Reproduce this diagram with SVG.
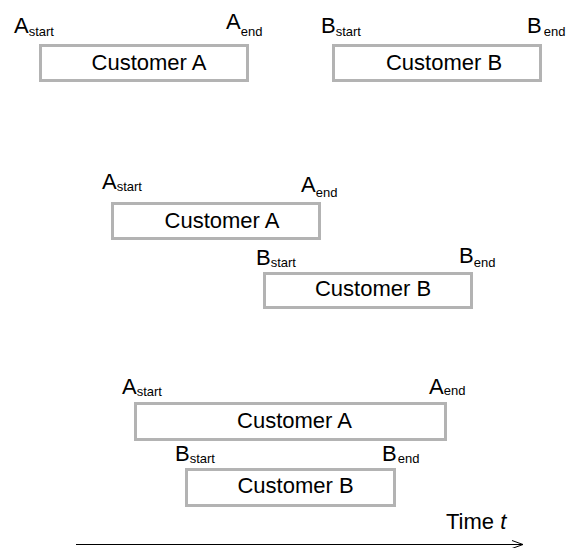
<svg xmlns="http://www.w3.org/2000/svg" width="575" height="548" viewBox="0 0 575 548">
<style>
text{font-family:"Liberation Sans",Arial,sans-serif;fill:#000}
.box{fill:#fff;stroke:#b3b3b3;stroke-width:3}
.lbl{font-size:22px}
.big{font-size:22px}
.sub{font-size:13px}
</style>
<defs>
<marker id="arr" viewBox="0 0 12 10" refX="11" refY="5" markerWidth="12" markerHeight="10" markerUnits="userSpaceOnUse" orient="auto">
<polyline points="0,1 11,5 0,9" fill="none" stroke="#000" stroke-width="1"/>
</marker>
</defs>
<rect width="575" height="548" fill="#fff"/>

<!-- Row 1 -->
<g id="r1-custA">
<rect class="box" x="40.5" y="45.5" width="207" height="35"/>
<text class="lbl" x="149" y="70" text-anchor="middle">Customer A</text>
</g>
<g id="r1-custB">
<rect class="box" x="333.5" y="45.5" width="207" height="35"/>
<text class="lbl" x="444" y="70" text-anchor="middle">Customer B</text>
</g>
<g id="r1-labels">
<text x="14" y="33"><tspan class="big">A</tspan><tspan class="sub" dy="3">start</tspan></text>
<text x="226" y="29"><tspan class="big">A</tspan><tspan class="sub" dy="7">end</tspan></text>
<text x="321" y="33"><tspan class="big">B</tspan><tspan class="sub" dy="3">start</tspan></text>
<text x="527" y="33"><tspan class="big">B</tspan><tspan class="sub" dx="2" dy="3">end</tspan></text>
</g>

<!-- Row 2 -->
<g id="r2-custA">
<rect class="box" x="112.5" y="203.5" width="207" height="35"/>
<text class="lbl" x="222" y="228" text-anchor="middle">Customer A</text>
</g>
<g id="r2-custB">
<rect class="box" x="264.5" y="273.5" width="207" height="34"/>
<text class="lbl" x="373" y="296" text-anchor="middle">Customer B</text>
</g>
<g id="r2-labels">
<text x="102" y="189"><tspan class="big">A</tspan><tspan class="sub" dy="2">start</tspan></text>
<text x="301" y="192"><tspan class="big">A</tspan><tspan class="sub" dy="5">end</tspan></text>
<text x="256" y="265"><tspan class="big">B</tspan><tspan class="sub" dy="2">start</tspan></text>
<text x="459" y="263"><tspan class="big">B</tspan><tspan class="sub" dy="4">end</tspan></text>
</g>

<!-- Row 3 -->
<g id="r3-custA">
<rect class="box" x="135.5" y="403.5" width="310" height="36"/>
<text class="lbl" x="294.5" y="428" text-anchor="middle">Customer A</text>
</g>
<g id="r3-custB">
<rect class="box" x="186.5" y="469.5" width="208" height="36"/>
<text class="lbl" x="295.5" y="493" text-anchor="middle">Customer B</text>
</g>
<g id="r3-labels">
<text x="122" y="394"><tspan class="big">A</tspan><tspan class="sub" dy="2">start</tspan></text>
<text x="429" y="394"><tspan class="big">A</tspan><tspan class="sub" dy="1">end</tspan></text>
<text x="175" y="461"><tspan class="big">B</tspan><tspan class="sub" dy="2">start</tspan></text>
<text x="382" y="461"><tspan class="big">B</tspan><tspan class="sub" dx="1" dy="2">end</tspan></text>
</g>

<g id="connectors">
<line x1="76" y1="544.5" x2="523" y2="544.5" stroke="#000" stroke-width="1" marker-end="url(#arr)"/>
</g>
<g id="time-label">
<text class="lbl" x="446" y="529">Time <tspan font-style="italic">t</tspan></text>
</g>
</svg>
